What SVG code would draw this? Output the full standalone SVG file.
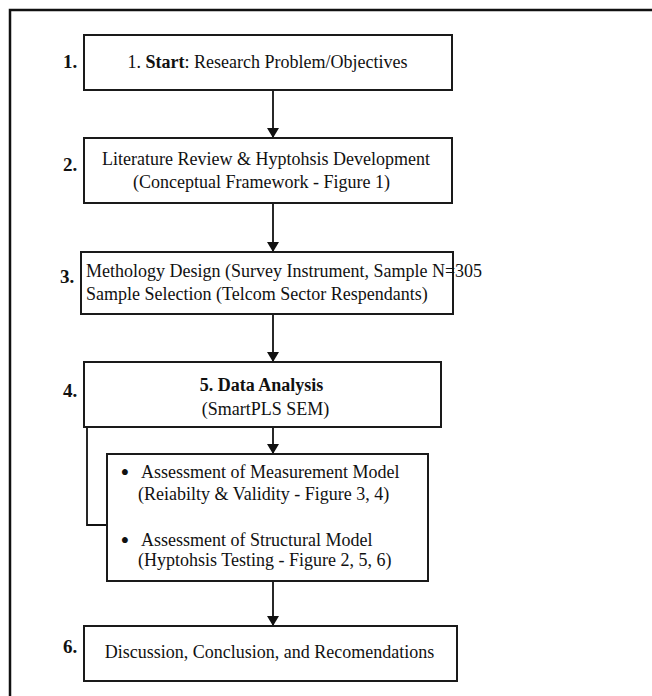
<svg xmlns="http://www.w3.org/2000/svg" width="652" height="696" viewBox="0 0 652 696">
  <defs>
    <marker id="arrowhead" viewBox="0 0 10 12" refX="10" refY="6" markerWidth="10" markerHeight="12" markerUnits="userSpaceOnUse" orient="auto">
      <path d="M0,0 L10,6 L0,12 Z" fill="#111"/>
    </marker>
    <style>
      .box { fill: #fff; stroke: #1a1a1a; stroke-width: 2; }
      .txt { font-family: "Liberation Serif", "Times New Roman", serif; font-size: 18px; fill: #111; }
      .num { font-family: "Liberation Serif", "Times New Roman", serif; font-size: 19px; font-weight: bold; fill: #111; }
      .bullet { font-family: "Liberation Serif", "Times New Roman", serif; font-size: 25px; fill: #111; }
      .conn { fill: none; stroke: #111; stroke-width: 1.8; }
      .mid { text-anchor: middle; }
    </style>
  </defs>
  <rect x="0" y="0" width="652" height="696" fill="#fff"/>
  <!-- outer frame, open to the right and bottom -->
  <path d="M10,696 V10 H652" fill="none" stroke="#111" stroke-width="2.5"/>

  <!-- connectors -->
  <g id="connectors">
    <line class="conn" x1="273" y1="90" x2="273" y2="138" marker-end="url(#arrowhead)"/>
    <line class="conn" x1="273" y1="203" x2="273" y2="252" marker-end="url(#arrowhead)"/>
    <line class="conn" x1="273" y1="314" x2="273" y2="362" marker-end="url(#arrowhead)"/>
    <line class="conn" x1="273" y1="427" x2="273" y2="454" marker-end="url(#arrowhead)"/>
    <line class="conn" x1="273" y1="581" x2="273" y2="626" marker-end="url(#arrowhead)"/>
    <path class="conn" d="M87,427 V525 H107"/>
  </g>

  <!-- step 1 -->
  <g id="step1">
    <text class="num" x="63" y="68">1.</text>
    <rect class="box" x="84" y="35" width="368" height="55"/>
    <text class="txt mid" x="267.5" y="68">1. <tspan font-weight="bold">Start</tspan>: Research Problem/Objectives</text>
  </g>

  <!-- step 2 -->
  <g id="step2">
    <text class="num" x="63" y="171">2.</text>
    <rect class="box" x="84" y="138" width="368" height="65"/>
    <text class="txt mid" x="266" y="165">Literature Review &amp; Hyptohsis Development</text>
    <text class="txt mid" x="261.5" y="188">(Conceptual Framework - Figure 1)</text>
  </g>

  <!-- step 3 -->
  <g id="step3">
    <text class="num" x="60" y="283">3.</text>
    <rect class="box" x="81" y="252" width="372" height="62"/>
    <text class="txt" x="86" y="277">Methology Design (Survey Instrument, Sample N=305</text>
    <text class="txt" x="86" y="300">Sample Selection (Telcom Sector Respendants)</text>
  </g>

  <!-- step 4 -->
  <g id="step4">
    <text class="num" x="63" y="397">4.</text>
    <rect class="box" x="84" y="362" width="357" height="65"/>
    <text class="txt mid" x="261.5" y="391" font-size="21" font-weight="bold">5. Data Analysis</text>
    <text class="txt mid" x="265.5" y="415">(SmartPLS SEM)</text>
  </g>

  <!-- step 4 detail -->
  <g id="step4-detail">
    <rect class="box" x="107" y="454" width="321" height="127"/>
    <text class="bullet" x="120.5" y="481">•</text>
    <text class="txt" x="141" y="478">Assessment of Measurement Model</text>
    <text class="txt" x="138" y="500">(Reiabilty &amp; Validity - Figure 3, 4)</text>
    <text class="bullet" x="120.5" y="549">•</text>
    <text class="txt" x="141" y="546">Assessment of Structural Model</text>
    <text class="txt" x="138" y="566">(Hyptohsis Testing - Figure 2, 5, 6)</text>
  </g>

  <!-- step 6 -->
  <g id="step6">
    <text class="num" x="63" y="653">6.</text>
    <rect class="box" x="84" y="626" width="373" height="55"/>
    <text class="txt mid" x="269.5" y="658">Discussion, Conclusion, and Recomendations</text>
  </g>
</svg>
